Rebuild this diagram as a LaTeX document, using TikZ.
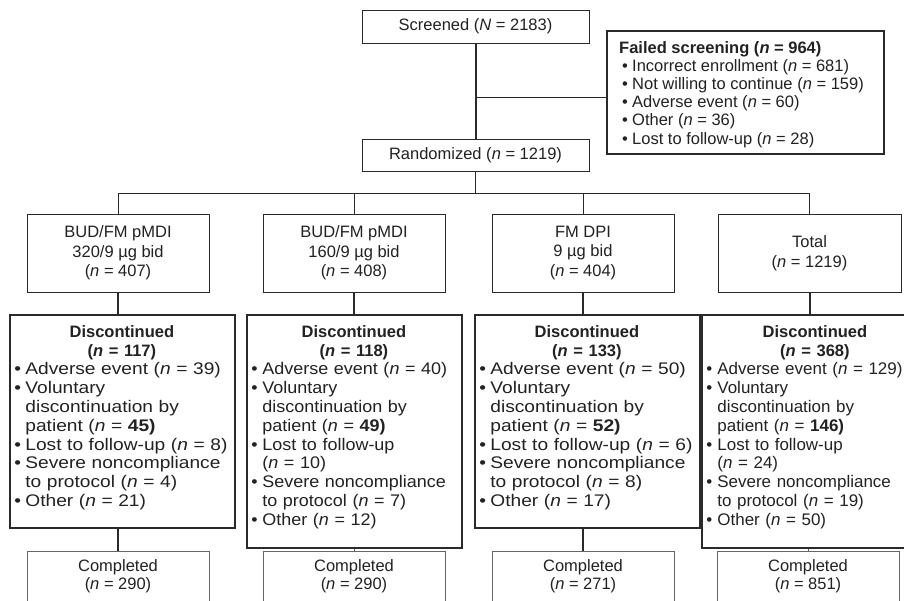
\documentclass[tikz,border=0pt]{standalone}
\usepackage{fontspec}
\setmainfont{Liberation Sans}
\newfontfamily\discA[FakeStretch=1.14]{Liberation Sans}
\newfontfamily\discB[FakeStretch=1.07]{Liberation Sans}
\newfontfamily\discC[FakeStretch=1.01]{Liberation Sans}
\definecolor{ink}{HTML}{222222}
\definecolor{lnc}{HTML}{2A2A2A}
\definecolor{cgray}{HTML}{666666}
\newcommand\bulitem{\hspace*{1pt}\makebox[11pt][l]{•}}
\newcommand\cind{\hspace*{12pt}}
\newcommand\fbul{\hspace*{3pt}\makebox[10pt][l]{•}}
\tikzset{
  boxa/.style={draw=lnc, line width=1pt, inner sep=0pt, align=center, text=ink,
    font=\fontsize{16.5}{19.5}\selectfont},
  boxb/.style={draw=lnc, line width=1.6pt, inner sep=0pt},
  boxc/.style={draw=cgray, line width=0.9pt, inner sep=0pt, align=center, text=ink,
    font=\fontsize{16.5}{18}\selectfont},
  txtnode/.style={inner sep=0pt, text=ink, font=\fontsize{16.8}{18.8}\selectfont},
  disctxt/.style={txtnode, anchor=north west, xshift=4pt, yshift=-11pt},
  thickln/.style={draw=lnc, line width=2pt},
  thinln/.style={draw=lnc, line width=1pt},
  grayln/.style={draw=cgray, line width=1pt}
}
\begin{document}
\begin{tikzpicture}[x=1pt,y=-1pt]
\useasboundingbox (0,0) rectangle (904,600);
\fill[white] (0,0) rectangle (904,600);
\clip (0,0) rectangle (904,600);

% top
\node[boxa, minimum width=227pt, minimum height=33pt] (scr) at (475.5,26.5) {Screened (\textit{N} = 2183)};
\node[boxa, minimum width=227pt, minimum height=32pt] (rand) at (475.5,155) {Randomized (\textit{n} = 1219)};
\node[boxb, minimum width=277pt, minimum height=123pt] (fail) at (745.5,92.5) {};
\node[txtnode, anchor=north west, align=left, font=\fontsize{16.5}{18.2}\selectfont] (failt) at (619,41)
 {\textbf{Failed screening (\textit{n} = 964)}\\
  \fbul Incorrect enrollment (\textit{n} = 681)\\
  \fbul Not willing to continue (\textit{n} = 159)\\
  \fbul Adverse event (\textit{n} = 60)\\
  \fbul Other (\textit{n} = 36)\\
  \fbul Lost to follow-up (\textit{n} = 28)};

\coordinate (brk) at (475.5,97);
\coordinate (bar) at (475.5,193);
\draw[thickln] (scr.south) -- (rand.north);
\draw[thinln] (brk) -- (brk -| fail.west);
\draw[thinln] (rand.south) -- (bar);

% arms
\node[boxa, minimum width=182pt, minimum height=78pt] (a1) at (118,253) {BUD/FM pMDI\\320/9 µg bid\\(\textit{n} = 407)};
\node[boxa, minimum width=182pt, minimum height=78pt] (a2) at (354,253) {BUD/FM pMDI\\160/9 µg bid\\(\textit{n} = 408)};
\node[boxa, minimum width=182pt, minimum height=78pt] (a3) at (583,253) {FM DPI\\9 µg bid\\(\textit{n} = 404)};
\node[boxa, minimum width=183pt, minimum height=78pt] (a4) at (809.5,253) {Total\\(\textit{n} = 1219)};

\draw[thinln] (bar -| a1.north) -- (bar -| a4.north);
\foreach \a in {a1,a2,a3,a4} { \draw[thinln] (bar -| \a.north) -- (\a.north); }

% discontinued boxes
\node[boxb, minimum width=225pt, minimum height=213pt] (d1) at (122.5,421.5) {};
\node[boxb, minimum width=215pt, minimum height=233pt] (d2) at (354.5,431.5) {};
\node[boxb, minimum width=225pt, minimum height=213pt] (d3) at (587.5,421.5) {};
\node[boxb, minimum width=227pt, minimum height=233pt] (d4) at (815.5,431.5) {};

\foreach \i in {1,2,3,4} { \draw[thickln] (a\i.south) -- (a\i.south |- d\i.north); }

\node[disctxt, text width=217pt] (d1t) at (d1.north west)
 {{\centering\fontsize{16.5}{18.8}\selectfont\bfseries Discontinued\\(\textit{n} = 117)\par}
  \raggedright\discA
  \bulitem Adverse event (\textit{n} = 39)\\
  \bulitem Voluntary\\
  \cind discontinuation by\\
  \cind patient (\textit{n} = \textbf{45)}\\
  \bulitem Lost to follow-up (\textit{n} = 8)\\
  \bulitem Severe noncompliance\\
  \cind to protocol (\textit{n} = 4)\\
  \bulitem Other (\textit{n} = 21)\par};

\node[disctxt, text width=207pt] (d2t) at (d2.north west)
 {{\centering\fontsize{16.5}{18.8}\selectfont\bfseries Discontinued\\(\textit{n} = 118)\par}
  \raggedright\discB
  \bulitem Adverse event (\textit{n} = 40)\\
  \bulitem Voluntary\\
  \cind discontinuation by\\
  \cind patient (\textit{n} = \textbf{49)}\\
  \bulitem Lost to follow-up\\
  \cind (\textit{n} = 10)\\
  \bulitem Severe noncompliance\\
  \cind to protocol (\textit{n} = 7)\\
  \bulitem Other (\textit{n} = 12)\par};

\node[disctxt, text width=217pt] (d3t) at (d3.north west)
 {{\centering\fontsize{16.5}{18.8}\selectfont\bfseries Discontinued\\(\textit{n} = 133)\par}
  \raggedright\discA
  \bulitem Adverse event (\textit{n} = 50)\\
  \bulitem Voluntary\\
  \cind discontinuation by\\
  \cind patient (\textit{n} = \textbf{52)}\\
  \bulitem Lost to follow-up (\textit{n} = 6)\\
  \bulitem Severe noncompliance\\
  \cind to protocol (\textit{n} = 8)\\
  \bulitem Other (\textit{n} = 17)\par};

\node[disctxt, text width=219pt] (d4t) at (d4.north west)
 {{\centering\fontsize{16.5}{18.8}\selectfont\bfseries Discontinued\\(\textit{n} = 368)\par}
  \raggedright\discC
  \bulitem Adverse event (\textit{n} = 129)\\
  \bulitem Voluntary\\
  \cind discontinuation by\\
  \cind patient (\textit{n} = \textbf{146)}\\
  \bulitem Lost to follow-up\\
  \cind (\textit{n} = 24)\\
  \bulitem Severe noncompliance\\
  \cind to protocol (\textit{n} = 19)\\
  \bulitem Other (\textit{n} = 50)\par};

% completed
\node[boxc, minimum width=182pt, minimum height=51pt] (c1) at (118,576.5) {Completed\\(\textit{n} = 290)};
\node[boxc, minimum width=182pt, minimum height=51pt] (c2) at (354,576.5) {Completed\\(\textit{n} = 290)};
\node[boxc, minimum width=182pt, minimum height=51pt] (c3) at (583,576.5) {Completed\\(\textit{n} = 271)};
\node[boxc, minimum width=182pt, minimum height=51pt] (c4) at (808,576.5) {Completed\\(\textit{n} = 851)};

\draw[thickln] (d1.south -| c1.north) -- (c1.north);
\draw[grayln] (d2.south -| c2.north) -- (c2.north);
\draw[thickln] (d3.south -| c3.north) -- (c3.north);
\draw[grayln] (d4.south -| c4.north) -- (c4.north);
\end{tikzpicture}
\end{document}
